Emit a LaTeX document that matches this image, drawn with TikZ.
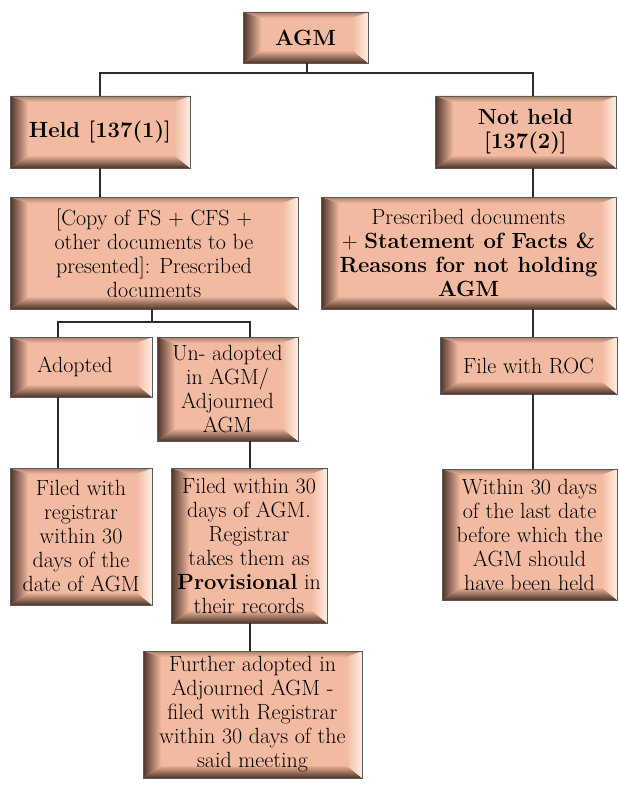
\documentclass[tikz,border=0pt]{standalone}
\usetikzlibrary{positioning}

\definecolor{boxfill}{RGB}{242,186,160}
\definecolor{boxdark}{RGB}{78,50,40}
\definecolor{boxlight}{RGB}{255,236,226}
\definecolor{boxline}{RGB}{90,90,90}
\definecolor{linkcol}{RGB}{45,45,45}

\tikzset{
  bevelbox/.style={draw=boxline, line width=0.9pt, fill=boxfill, align=center,
    inner sep=3pt, font=\fontsize{22}{24}\selectfont,
    path picture={
      \path (path picture bounding box.south west) coordinate (bl)
            (path picture bounding box.north east) coordinate (tr);
      % bottom and left shadow, right and top highlight
      \shade[top color=boxfill, bottom color=boxdark]
        (bl) -- ([xshift=18pt,yshift=13pt]bl) -- ([xshift=-16pt,yshift=13pt]tr |- bl) -- (tr |- bl) -- cycle;
      \shade[left color=boxdark, right color=boxfill]
        (bl) -- (bl |- tr) -- ([xshift=18pt,yshift=-6pt]bl |- tr) -- ([xshift=18pt,yshift=13pt]bl) -- cycle;
      \shade[left color=boxfill, right color=boxlight]
        (tr |- bl) -- ([xshift=-16pt,yshift=13pt]tr |- bl) -- ([xshift=-16pt,yshift=-6pt]tr) -- (tr) -- cycle;
      \shade[top color=boxdark!45!boxfill, bottom color=boxfill]
        (bl |- tr) -- (tr) -- ([xshift=-16pt,yshift=-6pt]tr) -- ([xshift=18pt,yshift=-6pt]bl |- tr) -- cycle;
    }},
  link/.style={draw=linkcol, line width=1.3pt}
}

\begin{document}
\begin{tikzpicture}[x=1pt, y=-1pt]
    \useasboundingbox (0,0) rectangle (618,789);

    % Top level
    \node[bevelbox, minimum width=125pt, minimum height=51pt] (agm) at (305.5,37.5) {\textbf{AGM}};
    \node[bevelbox, minimum width=180pt, minimum height=72pt] (held) at (100,132) {\textbf{Held [137(1)]}};
    \node[bevelbox, minimum width=181pt, minimum height=72pt] (notheld) at (525.5,132) {\textbf{Not held}\\\textbf{[137(2)]}};

    % Documents
    \node[bevelbox, minimum width=288pt, minimum height=112pt] (copy) at (154,253)
        {[Copy of FS + CFS +\\other documents to be\\presented]: Prescribed\\documents};
    \node[bevelbox, minimum width=295pt, minimum height=112pt] (presc) at (468.5,253)
        {Prescribed documents\\+ \textbf{Statement of Facts \&}\\\textbf{Reasons for not holding}\\\textbf{AGM}};

    % Held branch
    \node[bevelbox, minimum width=142pt, minimum height=60pt] (adopted) at (81,367) {Adopted\hspace*{12pt}};
    \node[bevelbox, minimum width=141pt, minimum height=104pt] (unadopted) at (227.5,389)
        {Un- adopted\\in AGM/\\Adjourned\\AGM};
    \node[bevelbox, minimum width=142pt, minimum height=137pt] (filedreg) at (81,536.5)
        {Filed with\\registrar\\within 30\\days of the\\date of AGM};
    \node[bevelbox, minimum width=156pt, minimum height=155pt] (filedin) at (249,545.5)
        {Filed within 30\\days of AGM.\\Registrar\\takes them as\\\textbf{Provisional} in\\their records};
    \node[bevelbox, minimum width=219pt, minimum height=127pt] (further) at (252.5,714.5)
        {Further adopted in\\Adjourned AGM -\\filed with Registrar\\within 30 days of the\\said meeting};

    % Not held branch
    \node[bevelbox, minimum width=177pt, minimum height=57pt] (roc) at (528.5,365.5) {File with ROC};
    \node[bevelbox, minimum width=175pt, minimum height=131pt] (within) at (529.5,534.5)
        {Within 30 days\\of the last date\\before which the\\AGM should\\have been held};

    % Connectors
    \coordinate (split) at (307,73);
    \draw[link] (agm.south -| split) -- (split);
    \draw[link] (held.north) |- (split) -| (notheld.north -| 533,0);
    \draw[link] (held.south) -- (copy.north -| held.south);
    \draw[link] (notheld.south -| 533,0) -- (presc.north -| 533,0);
    \draw[link] (presc.south -| 533,0) -- (roc.north -| 533,0);
    \draw[link] (roc.south -| 533,0) -- (within.north -| 533,0);

    \coordinate (fork) at (152,322);
    \draw[link] (copy.south -| fork) -- (fork);
    \draw[link] (adopted.north -| 58,0) |- (fork) -| (unadopted.north -| 250,0);
    \draw[link] (adopted.south -| 58,0) -- (filedreg.north -| 58,0);
    \draw[link] (unadopted.south -| 250,0) -- (filedin.north -| 250,0);
    \draw[link] (filedin.south -| 250,0) -- (further.north -| 250,0);
\end{tikzpicture}
\end{document}
